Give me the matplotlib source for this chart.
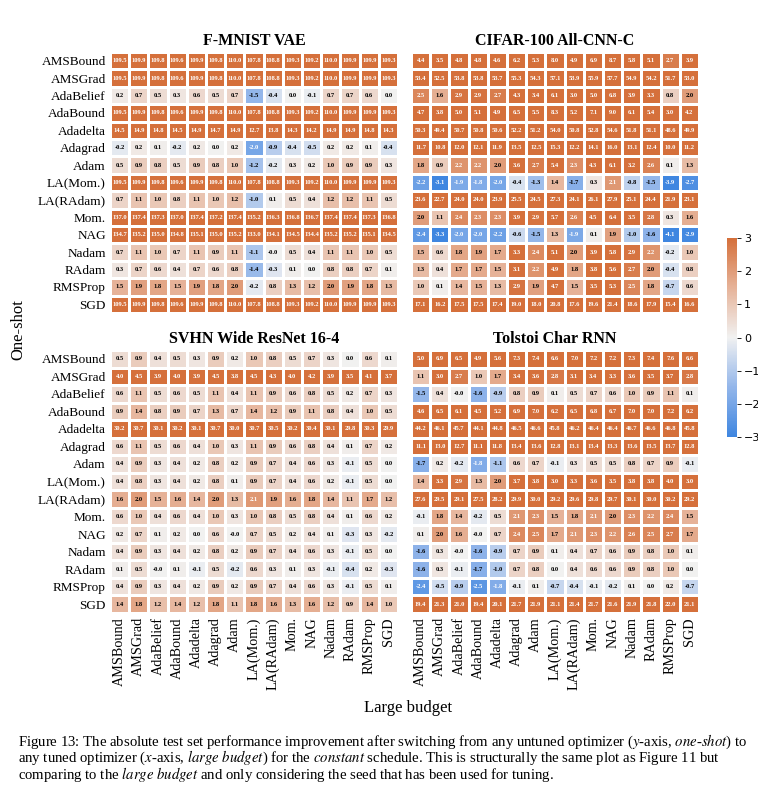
import numpy as np
import matplotlib as mpl
import matplotlib.pyplot as plt
from matplotlib.colors import LinearSegmentedColormap, Normalize

# =============================================================================
# Data
# =============================================================================

OPTIMIZERS = ["AMSBound", "AMSGrad", "AdaBelief", "AdaBound", "Adadelta", "Adagrad",
              "Adam", "LA(Mom.)", "LA(RAdam)", "Mom.", "NAG", "Nadam", "RAdam",
              "RMSProp", "SGD"]

TITLES = ["F-MNIST VAE", "CIFAR-100 All-CNN-C", "SVHN Wide ResNet 16-4", "Tolstoi Char RNN"]

FMNIST_BASE = [109.5, 109.9, 109.8, 109.6, 109.9, 109.8, 110.0, 107.8, 108.8, 109.3, 109.2, 110.0, 109.9, 109.9, 109.3]
fmnist_vae = [
    FMNIST_BASE,
    FMNIST_BASE,
    [0.2, 0.7, 0.5, 0.3, 0.6, 0.5, 0.7, -1.5, -0.4, 0.0, -0.1, 0.7, 0.7, 0.6, 0.0],
    FMNIST_BASE,
    [14.5, 14.9, 14.8, 14.5, 14.9, 14.7, 14.9, 12.7, 13.8, 14.3, 14.2, 14.9, 14.9, 14.8, 14.3],
    [-0.2, 0.2, 0.1, -0.2, 0.2, 0.0, 0.2, -2.0, -0.9, -0.4, -0.5, 0.2, 0.2, 0.1, -0.4],
    [0.5, 0.9, 0.8, 0.5, 0.9, 0.8, 1.0, -1.2, -0.2, 0.3, 0.2, 1.0, 0.9, 0.9, 0.3],
    FMNIST_BASE,
    [0.7, 1.1, 1.0, 0.8, 1.1, 1.0, 1.2, -1.0, 0.1, 0.5, 0.4, 1.2, 1.2, 1.1, 0.5],
    [137.0, 137.4, 137.3, 137.0, 137.4, 137.2, 137.4, 135.2, 136.3, 136.8, 136.7, 137.4, 137.4, 137.3, 136.8],
    [134.7, 135.2, 135.0, 134.8, 135.1, 135.0, 135.2, 133.0, 134.1, 134.5, 134.4, 135.2, 135.2, 135.1, 134.5],
    [0.7, 1.1, 1.0, 0.7, 1.1, 0.9, 1.1, -1.1, -0.0, 0.5, 0.4, 1.1, 1.1, 1.0, 0.5],
    [0.3, 0.7, 0.6, 0.4, 0.7, 0.6, 0.8, -1.4, -0.3, 0.1, 0.0, 0.8, 0.8, 0.7, 0.1],
    [1.5, 1.9, 1.8, 1.5, 1.9, 1.8, 2.0, -0.2, 0.8, 1.3, 1.2, 2.0, 1.9, 1.8, 1.3],
    FMNIST_BASE,
]

cifar100_allcnnc = [
    [4.4, 3.5, 4.8, 4.8, 4.6, 6.2, 5.3, 8.0, 4.9, 6.9, 8.7, 5.8, 5.1, 2.7, 3.9],
    [53.4, 52.5, 53.8, 53.8, 53.7, 55.3, 54.3, 57.1, 53.9, 55.9, 57.7, 54.9, 54.2, 51.7, 53.0],
    [2.5, 1.6, 2.9, 2.9, 2.7, 4.3, 3.4, 6.1, 3.0, 5.0, 6.8, 3.9, 3.3, 0.8, 2.0],
    [4.7, 3.8, 5.0, 5.1, 4.9, 6.5, 5.5, 8.3, 5.2, 7.1, 9.0, 6.1, 5.4, 3.0, 4.2],
    [50.3, 49.4, 50.7, 50.8, 50.6, 52.2, 51.2, 54.0, 50.8, 52.8, 54.6, 51.8, 51.1, 48.6, 49.9],
    [11.7, 10.8, 12.0, 12.1, 11.9, 13.5, 12.5, 15.3, 12.2, 14.1, 16.0, 13.1, 12.4, 10.0, 11.2],
    [1.8, 0.9, 2.2, 2.2, 2.0, 3.6, 2.7, 5.4, 2.3, 4.3, 6.1, 3.2, 2.6, 0.1, 1.3],
    [-2.2, -3.1, -1.9, -1.8, -2.0, -0.4, -1.3, 1.4, -1.7, 0.3, 2.1, -0.8, -1.5, -3.9, -2.7],
    [23.6, 22.7, 24.0, 24.0, 23.9, 25.5, 24.5, 27.3, 24.1, 26.1, 27.9, 25.1, 24.4, 21.9, 23.1],
    [2.0, 1.1, 2.4, 2.3, 2.3, 3.9, 2.9, 5.7, 2.6, 4.5, 6.4, 3.5, 2.8, 0.3, 1.6],
    [-2.4, -3.3, -2.0, -2.0, -2.2, -0.6, -1.5, 1.3, -1.9, 0.1, 1.9, -1.0, -1.6, -4.1, -2.9],
    [1.5, 0.6, 1.8, 1.9, 1.7, 3.3, 2.4, 5.1, 2.0, 3.9, 5.8, 2.9, 2.2, -0.2, 1.0],
    [1.3, 0.4, 1.7, 1.7, 1.5, 3.1, 2.2, 4.9, 1.8, 3.8, 5.6, 2.7, 2.0, -0.4, 0.8],
    [1.0, 0.1, 1.4, 1.5, 1.3, 2.9, 1.9, 4.7, 1.5, 3.5, 5.3, 2.5, 1.8, -0.7, 0.6],
    [17.1, 16.2, 17.5, 17.5, 17.4, 19.0, 18.0, 20.8, 17.6, 19.6, 21.4, 18.6, 17.9, 15.4, 16.6],
]

svhn_wrn = [
    [0.5, 0.9, 0.4, 0.5, 0.3, 0.9, 0.2, 1.0, 0.8, 0.5, 0.7, 0.3, 0.0, 0.6, 0.1],
    [4.0, 4.5, 3.9, 4.0, 3.9, 4.5, 3.8, 4.5, 4.3, 4.0, 4.2, 3.9, 3.5, 4.1, 3.7],
    [0.6, 1.1, 0.5, 0.6, 0.5, 1.1, 0.4, 1.1, 0.9, 0.6, 0.8, 0.5, 0.2, 0.7, 0.3],
    [0.9, 1.4, 0.8, 0.9, 0.7, 1.3, 0.7, 1.4, 1.2, 0.9, 1.1, 0.8, 0.4, 1.0, 0.5],
    [30.2, 30.7, 30.1, 30.2, 30.1, 30.7, 30.0, 30.7, 30.5, 30.2, 30.4, 30.1, 29.8, 30.3, 29.9],
    [0.6, 1.1, 0.5, 0.6, 0.4, 1.0, 0.3, 1.1, 0.9, 0.6, 0.8, 0.4, 0.1, 0.7, 0.2],
    [0.4, 0.9, 0.3, 0.4, 0.2, 0.8, 0.2, 0.9, 0.7, 0.4, 0.6, 0.3, -0.1, 0.5, 0.0],
    [0.4, 0.8, 0.3, 0.4, 0.2, 0.8, 0.1, 0.9, 0.7, 0.4, 0.6, 0.2, -0.1, 0.5, 0.0],
    [1.6, 2.0, 1.5, 1.6, 1.4, 2.0, 1.3, 2.1, 1.9, 1.6, 1.8, 1.4, 1.1, 1.7, 1.2],
    [0.6, 1.0, 0.4, 0.6, 0.4, 1.0, 0.3, 1.0, 0.8, 0.5, 0.8, 0.4, 0.1, 0.6, 0.2],
    [0.2, 0.7, 0.1, 0.2, 0.0, 0.6, -0.0, 0.7, 0.5, 0.2, 0.4, 0.1, -0.3, 0.3, -0.2],
    [0.4, 0.9, 0.3, 0.4, 0.2, 0.8, 0.2, 0.9, 0.7, 0.4, 0.6, 0.3, -0.1, 0.5, 0.0],
    [0.1, 0.5, -0.0, 0.1, -0.1, 0.5, -0.2, 0.6, 0.3, 0.1, 0.3, -0.1, -0.4, 0.2, -0.3],
    [0.4, 0.9, 0.3, 0.4, 0.2, 0.9, 0.2, 0.9, 0.7, 0.4, 0.6, 0.3, -0.1, 0.5, 0.1],
    [1.4, 1.8, 1.2, 1.4, 1.2, 1.8, 1.1, 1.8, 1.6, 1.3, 1.6, 1.2, 0.9, 1.4, 1.0],
]

tolstoi_rnn = [
    [5.0, 6.9, 6.5, 4.9, 5.6, 7.3, 7.4, 6.6, 7.0, 7.2, 7.2, 7.3, 7.4, 7.6, 6.6],
    [1.1, 3.0, 2.7, 1.0, 1.7, 3.4, 3.6, 2.8, 3.1, 3.4, 3.3, 3.6, 3.5, 3.7, 2.8],
    [-1.5, 0.4, -0.0, -1.6, -0.9, 0.8, 0.9, 0.1, 0.5, 0.7, 0.6, 1.0, 0.9, 1.1, 0.1],
    [4.6, 6.5, 6.1, 4.5, 5.2, 6.9, 7.0, 6.2, 6.5, 6.8, 6.7, 7.0, 7.0, 7.2, 6.2],
    [44.2, 46.1, 45.7, 44.1, 44.8, 46.5, 46.6, 45.8, 46.2, 46.4, 46.4, 46.7, 46.6, 46.8, 45.8],
    [11.1, 13.0, 12.7, 11.1, 11.8, 13.4, 13.6, 12.8, 13.1, 13.4, 13.3, 13.6, 13.5, 13.7, 12.8],
    [-1.7, 0.2, -0.2, -1.8, -1.1, 0.6, 0.7, -0.1, 0.3, 0.5, 0.5, 0.8, 0.7, 0.9, -0.1],
    [1.4, 3.3, 2.9, 1.3, 2.0, 3.7, 3.8, 3.0, 3.3, 3.6, 3.5, 3.8, 3.8, 4.0, 3.0],
    [27.6, 29.5, 29.1, 27.5, 28.2, 29.9, 30.0, 29.2, 29.6, 29.8, 29.7, 30.1, 30.0, 30.2, 29.2],
    [-0.1, 1.8, 1.4, -0.2, 0.5, 2.1, 2.3, 1.5, 1.8, 2.1, 2.0, 2.3, 2.2, 2.4, 1.5],
    [0.1, 2.0, 1.6, -0.0, 0.7, 2.4, 2.5, 1.7, 2.1, 2.3, 2.2, 2.6, 2.5, 2.7, 1.7],
    [-1.6, 0.3, -0.0, -1.6, -0.9, 0.7, 0.9, 0.1, 0.4, 0.7, 0.6, 0.9, 0.8, 1.0, 0.1],
    [-1.6, 0.3, -0.1, -1.7, -1.0, 0.7, 0.8, 0.0, 0.4, 0.6, 0.6, 0.9, 0.8, 1.0, 0.0],
    [-2.4, -0.5, -0.9, -2.5, -1.8, -0.1, 0.1, -0.7, -0.4, -0.1, -0.2, 0.1, 0.0, 0.2, -0.7],
    [19.4, 21.3, 21.0, 19.4, 20.1, 21.7, 21.9, 21.1, 21.4, 21.7, 21.6, 21.9, 21.8, 22.0, 21.1],
]

PANELS = [fmnist_vae, cifar100_allcnnc, svhn_wrn, tolstoi_rnn]

# =============================================================================
# Style
# =============================================================================

mpl.rcParams["font.family"] = ["Liberation Serif", "DejaVu Serif"]
mpl.rcParams["mathtext.fontset"] = "stix"

W, H = 758, 790
CMAP = LinearSegmentedColormap.from_list(
    "blue_orange", ["#3f86e0", "#93b6ea", "#f1f1f1", "#e6b399", "#d5703b"])
NORM = Normalize(vmin=-3, vmax=3)

# panel boxes in pixels: left, top, right, bottom
BOXES = [(110, 52, 398, 313), (411, 52, 699, 313),
         (110, 350, 398, 613), (411, 350, 699, 613)]


def px_axes(fig, box):
    l, t, r, b = box
    return fig.add_axes([l / W, 1 - b / H, (r - l) / W, (b - t) / H])


def text_color(v):
    rgb = np.array(CMAP(NORM(v))[:3])
    lin = np.where(rgb <= 0.03928, rgb / 12.92, ((rgb + 0.055) / 1.055) ** 2.4)
    lum = 0.2126 * lin[0] + 0.7152 * lin[1] + 0.0722 * lin[2]
    return "black" if lum > 0.408 else "white"


fig = plt.figure(figsize=(W / 100, H / 100), dpi=100)

for k, (vals, title, box) in enumerate(zip(PANELS, TITLES, BOXES)):
    data = np.array(vals, dtype=float)
    ax = px_axes(fig, box)
    ax.pcolormesh(data, cmap=CMAP, norm=NORM, edgecolors="white", linewidth=1.0)
    ax.set_xlim(0, data.shape[1])
    ax.set_ylim(data.shape[0], 0)
    for i in range(data.shape[0]):
        for j in range(data.shape[1]):
            v = data[i, j]
            ax.text(j + 0.5, i + 0.5, f"{v:.1f}", ha="center", va="center",
                    fontsize=4.7, fontweight="bold", color=text_color(v))
    ax.set_title(title, fontsize=11.5, fontweight="bold", pad=5)
    for s in ax.spines.values():
        s.set_visible(False)
    ax.tick_params(length=0, pad=3)
    if k % 2 == 0:
        ax.set_yticks(np.arange(len(OPTIMIZERS)) + 0.5)
        ax.set_yticklabels(OPTIMIZERS, fontsize=9.5)
    else:
        ax.set_yticks([])
    if k >= 2:
        ax.set_xticks(np.arange(len(OPTIMIZERS)) + 0.5)
        ax.set_xticklabels(OPTIMIZERS, fontsize=10.2, rotation=90)
    else:
        ax.set_xticks([])

# colorbar
cax = px_axes(fig, (727, 238, 737, 437))
cb = fig.colorbar(mpl.cm.ScalarMappable(norm=NORM, cmap=CMAP), cax=cax)
cb.set_ticks([-3, -2, -1, 0, 1, 2, 3])
cb.ax.tick_params(labelsize=8, length=3, width=0.6, pad=2)
for lab in cb.ax.get_yticklabels():
    lab.set_fontfamily("DejaVu Sans")
cb.outline.set_visible(False)

fig.text(18 / W, 1 - 330 / H, "One-shot", rotation=90, ha="center", va="center", fontsize=12)
fig.text(408 / W, 1 - 708 / H, "Large budget", ha="center", va="center", fontsize=12)

caption = [
    r"Figure 13: The absolute test set performance improvement after switching from any untuned optimizer ($y$-axis, $\mathit{one}$-$\mathit{shot}$) to",
    r"any tuned optimizer ($x$-axis, $\mathit{large\ budget}$) for the $\mathit{constant}$ schedule. This is structurally the same plot as Figure 11 but",
    r"comparing to the $\mathit{large\ budget}$ and only considering the seed that has been used for tuning.",
]
for n, line in enumerate(caption):
    fig.text(18 / W, 1 - (742 + 16 * n) / H, line, ha="left", va="center", fontsize=10.6)

fig.savefig("out.png", dpi=100)
